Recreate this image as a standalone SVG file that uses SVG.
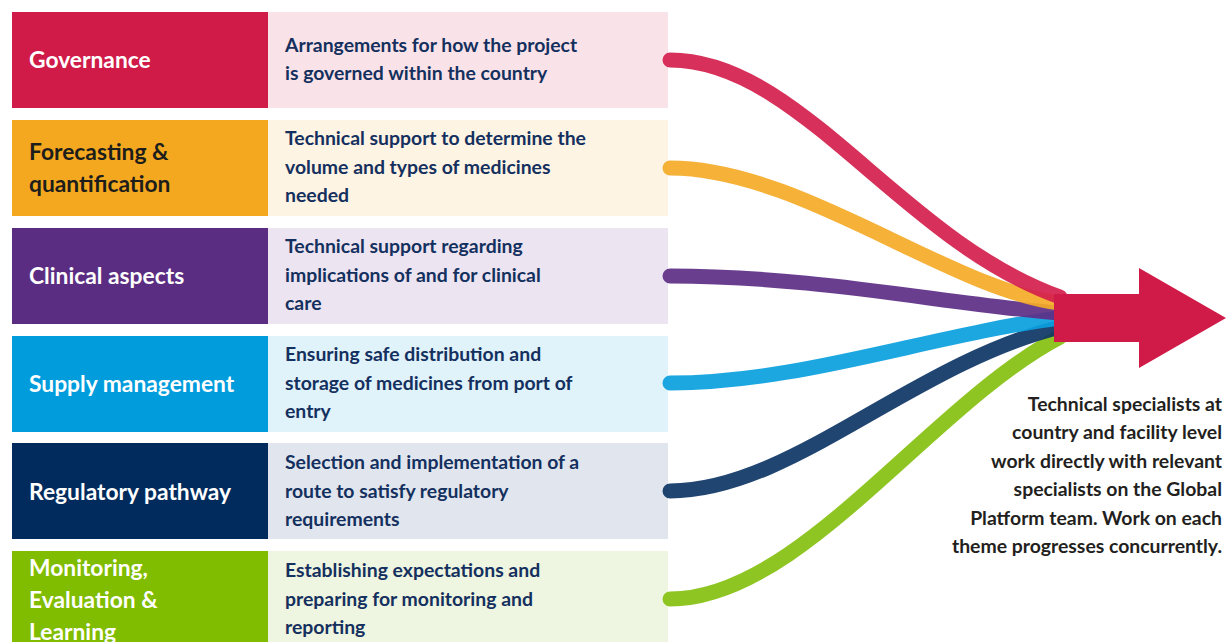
<svg xmlns="http://www.w3.org/2000/svg" width="1226" height="642" viewBox="0 0 1226 642">
<style>
.t{font-family:Lato,"Noto Sans","Liberation Sans",sans-serif;font-weight:700;font-size:22.8px;fill:#ffffff}
.d{font-family:Lato,"Noto Sans","Liberation Sans",sans-serif;font-weight:700;font-size:19.4px;fill:#14305e}
.r{font-family:Lato,"Noto Sans","Liberation Sans",sans-serif;font-weight:700;font-size:19.4px;fill:#231f20;text-anchor:end}
.c{fill:none;stroke-width:15;stroke-linecap:round;opacity:0.92}
</style>
<rect width="1226" height="642" fill="#ffffff"/>
<g id="governance">
<rect x="12" y="12" width="256" height="96" fill="#d01a47"/>
<rect x="268" y="12" width="400" height="96" fill="#fae3e8"/>
<text class="t" x="29" y="68">Governance</text>
<text class="d" x="285" y="52">Arrangements for how the project</text>
<text class="d" x="285" y="80">is governed within the country</text>
</g>
<g id="forecasting">
<rect x="12" y="120" width="256" height="96" fill="#f4a81f"/>
<rect x="268" y="120" width="400" height="96" fill="#fef4e4"/>
<text class="t" x="29" y="160" style="fill:#1d1d1b">Forecasting &amp;</text>
<text class="t" x="29" y="192" style="fill:#1d1d1b">quantification</text>
<text class="d" x="285" y="145">Technical support to determine the</text>
<text class="d" x="285" y="174">volume and types of medicines</text>
<text class="d" x="285" y="202">needed</text>
</g>
<g id="clinical">
<rect x="12" y="228" width="256" height="96" fill="#5b2d82"/>
<rect x="268" y="228" width="400" height="96" fill="#ece5f1"/>
<text class="t" x="29" y="284">Clinical aspects</text>
<text class="d" x="285" y="253">Technical support regarding</text>
<text class="d" x="285" y="282">implications of and for clinical</text>
<text class="d" x="285" y="310">care</text>
</g>
<g id="supply">
<rect x="12" y="336" width="256" height="96" fill="#009cdc"/>
<rect x="268" y="336" width="400" height="96" fill="#e0f2fa"/>
<text class="t" x="29" y="392">Supply management</text>
<text class="d" x="285" y="361">Ensuring safe distribution and</text>
<text class="d" x="285" y="390">storage of medicines from port of</text>
<text class="d" x="285" y="418">entry</text>
</g>
<g id="regulatory">
<rect x="12" y="443" width="256" height="96" fill="#012b5c"/>
<rect x="268" y="443" width="400" height="96" fill="#e1e6ee"/>
<text class="t" x="29" y="500">Regulatory pathway</text>
<text class="d" x="285" y="469">Selection and implementation of a</text>
<text class="d" x="285" y="498">route to satisfy regulatory</text>
<text class="d" x="285" y="526">requirements</text>
</g>
<g id="monitoring">
<rect x="12" y="551" width="256" height="96" fill="#80bc00"/>
<rect x="268" y="551" width="400" height="96" fill="#eef5e0"/>
<text class="t" x="29" y="576">Monitoring,</text>
<text class="t" x="29" y="608">Evaluation &amp;</text>
<text class="t" x="29" y="640">Learning</text>
<text class="d" x="285" y="577">Establishing expectations and</text>
<text class="d" x="285" y="606">preparing for monitoring and</text>
<text class="d" x="285" y="634">reporting</text>
</g>
<g id="connectors">
<path class="c" stroke="#86c010" d="M670,599 C800,599 930,405 1060,337"/>
<path class="c" stroke="#0d3565" d="M670,491 C790,491 910,365 1060,327"/>
<path class="c" stroke="#0a9fde" d="M670,383 C800,383 930,335 1060,318"/>
<path class="c" stroke="#5d2e86" d="M670,276 C820,276 950,305 1060,313"/>
<path class="c" stroke="#f4aa27" d="M670,168 C800,168 950,290 1060,303"/>
<path class="c" stroke="#d41f4d" d="M670,60 C800,60 900,240 1060,297"/>
</g>
<g id="arrow">
<polygon points="1054,294 1139,294 1139,268 1226,318 1139,368 1139,342 1054,342" fill="#d01a47"/>
</g>
<g id="note">
<text class="r" x="1222" y="411">Technical specialists at</text>
<text class="r" x="1222" y="439">country and facility level</text>
<text class="r" x="1222" y="468">work directly with relevant</text>
<text class="r" x="1222" y="496">specialists on the Global</text>
<text class="r" x="1222" y="525">Platform team. Work on each</text>
<text class="r" x="1222" y="553">theme progresses concurrently.</text>
</g>
</svg>
